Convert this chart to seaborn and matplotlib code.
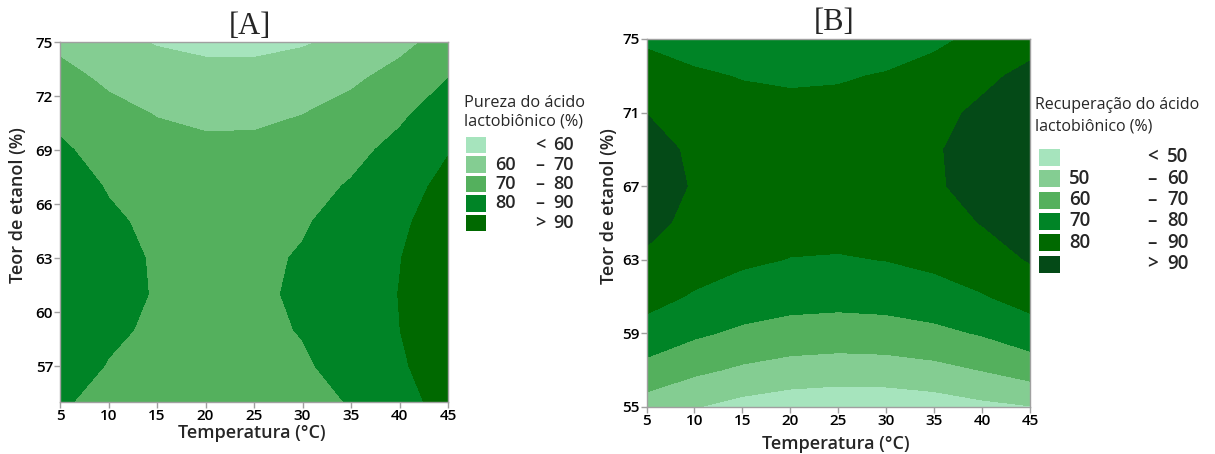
import numpy as np
import matplotlib
matplotlib.use("Agg")
import matplotlib.pyplot as plt
import seaborn as sns
from matplotlib.patches import Rectangle

temperatura = [5, 10, 15, 20, 25, 30, 35, 40, 45]
etanol = [55, 57, 59, 61, 63, 65, 67, 69, 71, 73, 75]

# [A] Pureza do ácido lactobiônico (%) - rows follow `etanol`, columns `temperatura`
pureza = [
    [81.2, 76.9, 74.4, 73.4, 74.2, 76.6, 80.6, 86.3, 93.7],
    [83.9, 79.6, 77.0, 76.0, 76.6, 79.0, 82.9, 88.6, 95.8],
    [85.8, 81.4, 78.7, 77.6, 78.2, 80.4, 84.3, 89.9, 97.1],
    [86.7, 82.3, 79.5, 78.3, 78.8, 81.0, 84.8, 90.2, 97.4],
    [86.8, 82.2, 79.3, 78.1, 78.5, 80.6, 84.3, 89.7, 96.7],
    [85.9, 81.3, 78.3, 77.0, 77.3, 79.3, 82.9, 88.2, 95.2],
    [84.1, 79.4, 76.3, 74.9, 75.2, 77.1, 80.7, 85.9, 92.8],
    [81.4, 76.6, 73.4, 72.0, 72.1, 74.0, 77.5, 82.6, 89.4],
    [77.7, 72.9, 69.6, 68.1, 68.2, 69.9, 73.3, 78.4, 85.1],
    [73.2, 68.2, 64.9, 63.3, 63.3, 65.0, 68.3, 73.3, 79.9],
    [67.7, 62.7, 59.3, 57.6, 57.5, 59.1, 62.4, 67.3, 73.8],
]

# [B] Recuperação do ácido lactobiônico (%)
recuperacao = [
    [55.4, 50.4, 46.6, 44.2, 43.1, 43.3, 44.8, 47.6, 49.5],
    [66.8, 61.9, 58.4, 56.1, 55.2, 55.6, 57.2, 60.2, 64.4],
    [76.1, 71.5, 68.1, 66.0, 65.3, 65.8, 67.6, 70.7, 75.2],
    [83.5, 79.0, 75.8, 73.9, 73.3, 74.0, 76.0, 79.3, 83.9],
    [88.8, 84.5, 81.5, 79.7, 79.3, 80.2, 82.3, 85.8, 90.6],
    [92.1, 88.0, 85.1, 83.5, 83.3, 84.3, 86.7, 90.3, 95.3],
    [93.4, 89.4, 86.7, 85.3, 85.2, 86.5, 89.0, 92.8, 97.9],
    [92.6, 88.8, 86.3, 85.1, 85.2, 86.6, 89.2, 93.2, 98.5],
    [89.9, 86.2, 83.9, 82.8, 83.1, 84.6, 87.5, 91.7, 97.1],
    [85.0, 81.6, 79.4, 78.5, 79.0, 80.7, 83.7, 88.0, 92.3],
    [78.2, 74.9, 72.9, 72.2, 72.8, 74.7, 77.9, 82.4, 86.5],
]

niveis_a = [60, 70, 80, 90]
niveis_b = [50, 60, 70, 80, 90]

verdes = ["#A6E4BD", "#84CD92", "#54B05D", "#008426", "#006900", "#044A17"]

# --- style ---
sns.set_theme(style="ticks")
plt.rcParams["font.family"] = ["Open Sans", "DejaVu Sans"]
plt.rcParams["axes.edgecolor"] = "#A0A0A0"
plt.rcParams["xtick.color"] = "#A0A0A0"
plt.rcParams["ytick.color"] = "#A0A0A0"
plt.rcParams["xtick.labelcolor"] = "black"
plt.rcParams["ytick.labelcolor"] = "black"

W, H = 1215, 454
fig = plt.figure(figsize=(W / 100, H / 100), dpi=100)


def fig_xy(x, y):
    return x / W, 1 - y / H


def painel(rect, z, niveis, yticks, title, title_xy, ylab_x, xlab_y):
    ax = fig.add_axes(rect)
    X, Y = np.meshgrid(temperatura, etanol)
    cores = verdes[:len(niveis) + 1]
    ax.contourf(X, Y, np.array(z), levels=[0] + niveis + [200], colors=cores)
    ax.set_xlim(5, 45)
    ax.set_ylim(55, 75)
    ax.set_xticks(temperatura)
    ax.set_yticks(yticks)
    ax.tick_params(length=4, width=1, labelsize=11, pad=1)
    for lab in ax.get_xticklabels() + ax.get_yticklabels():
        lab.set_fontweight("semibold")
    for s in ax.spines.values():
        s.set_linewidth(1)
    ax.set_xlabel("Temperatura (°C)", fontsize=13, fontweight="semibold")
    ax.set_ylabel("Teor de etanol (%)", fontsize=13, fontweight="semibold")
    ax.xaxis.set_label_coords(0.494, xlab_y)
    ax.yaxis.set_label_coords(ylab_x, 0.547)
    fig.text(*fig_xy(*title_xy), title, ha="center", va="center",
             fontsize=22, family="Liberation Serif")
    return ax


axA = painel([60 / W, 1 - 402 / H, 388 / W, 360 / H], pureza, niveis_a,
             [57, 60, 63, 66, 69, 72, 75], "[A]", (250, 27), -0.085, -0.062)
axB = painel([646.5 / W, 1 - 407 / H, 383.5 / W, 368 / H], recuperacao, niveis_b,
             [55, 59, 63, 67, 71, 75], "[B]", (834, 22), -0.074, -0.077)


def legenda(title_lines, tx, ty, niveis, y0, dy, px0, pw, ph, xl, xs, xu, fs, tfs):
    for i, line in enumerate(title_lines):
        fig.text(*fig_xy(tx, ty[i]), line, ha="left", va="center", fontsize=tfs)
    n = len(niveis)
    for i in range(n + 1):
        yc = y0 + i * dy
        x0, y1 = fig_xy(px0, yc + ph / 2)
        fig.add_artist(Rectangle((x0, y1), pw / W, ph / H, transform=fig.transFigure,
                                 facecolor=verdes[i], edgecolor="none"))
        if i == 0:
            lo, sym, hi = "", "<", niveis[0]
        elif i == n:
            lo, sym, hi = "", ">", niveis[-1]
        else:
            lo, sym, hi = niveis[i - 1], "–", niveis[i]
        fig.text(*fig_xy(xl, yc), str(lo), ha="left", va="center", fontsize=fs, fontweight="semibold")
        fig.text(*fig_xy(xs, yc), sym, ha="center", va="center", fontsize=fs, fontweight="semibold")
        fig.text(*fig_xy(xu, yc), str(hi), ha="left", va="center", fontsize=fs, fontweight="semibold")


legenda(["Pureza do ácido", "lactobiônico (%)"], 464, [103, 121.5], niveis_a,
        145, 19.5, 466, 20, 16, 495, 540, 553, 13, 11.7)
legenda(["Recuperação do ácido", "lactobiônico (%)"], 1035, [105, 126.5], niveis_b,
        157.5, 21.3, 1039, 21, 17, 1069, 1152, 1167, 13.5, 11.5)

fig.savefig("out.png", dpi=100)
